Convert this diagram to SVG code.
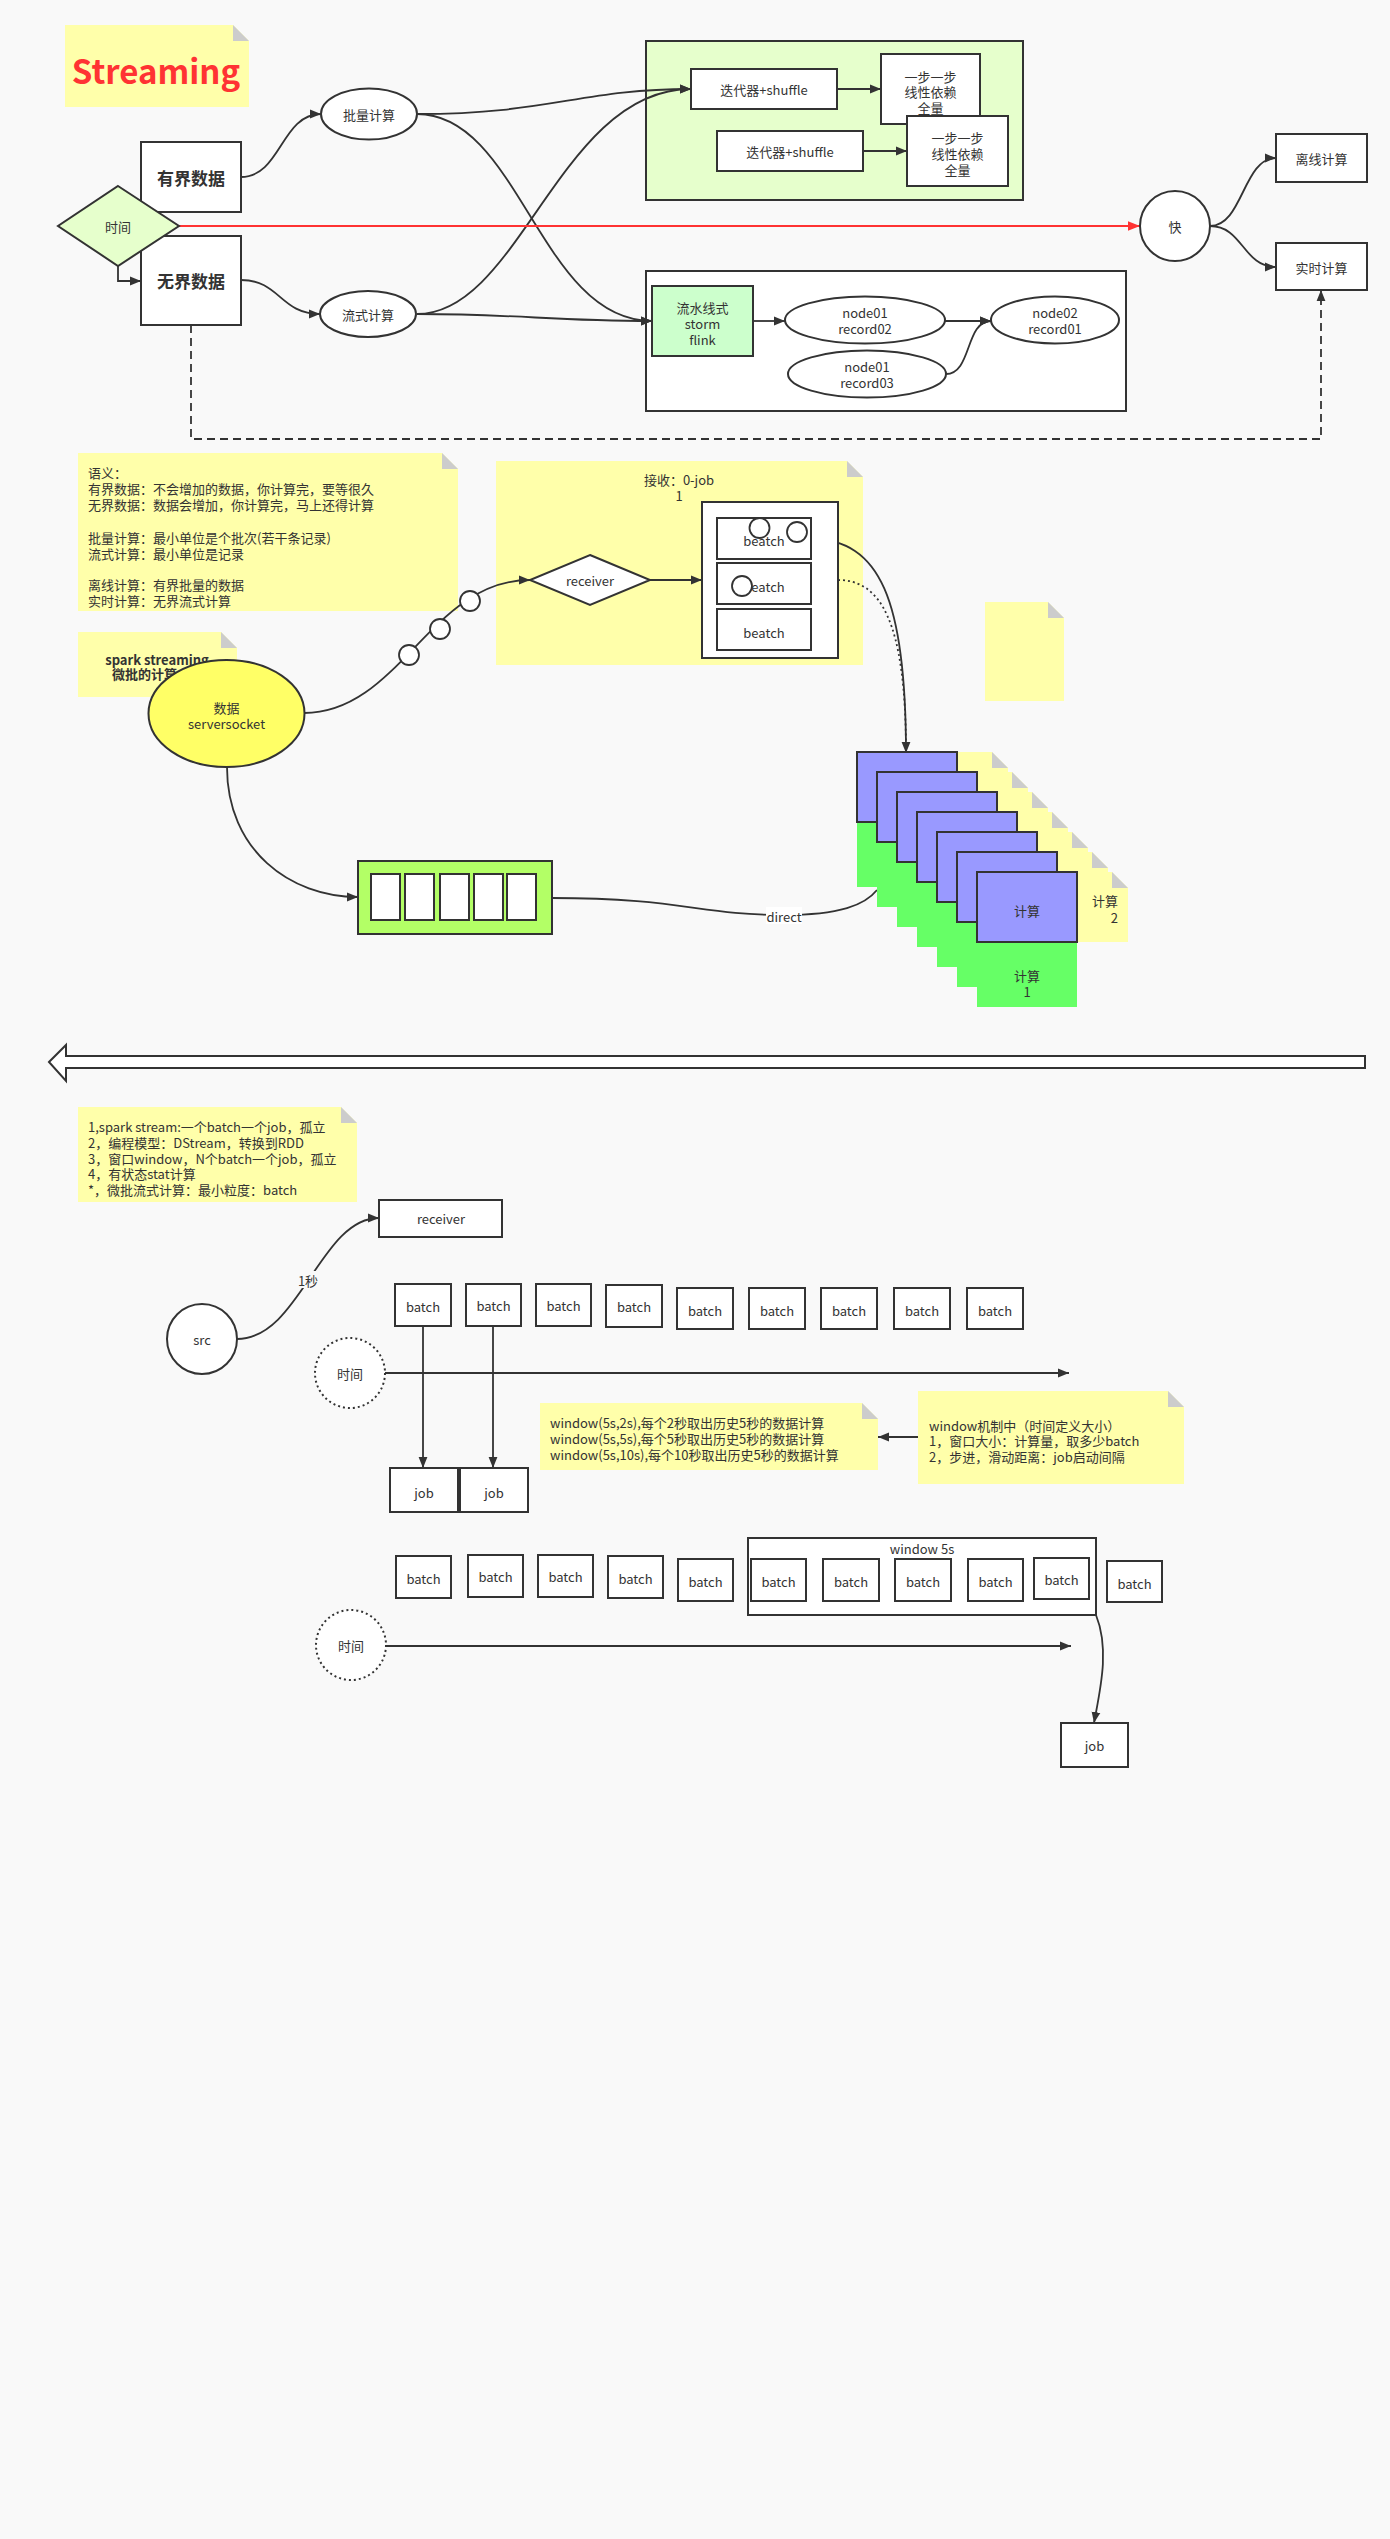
<svg xmlns="http://www.w3.org/2000/svg" width="1390" height="2539" viewBox="0 0 1390 2539">
<defs>
<style>
text{font-family:"Noto Sans CJK SC","Noto Sans",sans-serif;font-size:13px;fill:#333;}
.c{text-anchor:middle;dominant-baseline:central;}
.box{fill:#fff;stroke:#333;stroke-width:2;}
.note{fill:#ffffaa;}
.fold{fill:#cccccc;}
.edge{fill:none;stroke:#333;stroke-width:1.8;}
.purple{fill:#9999ff;stroke:#333;stroke-width:2;}
.green{fill:#66ff66;}
.circ{fill:#fff;stroke:#333;stroke-width:1.8;}
</style>
<marker id="arr" viewBox="0 0 10 10" refX="10" refY="5" markerWidth="11" markerHeight="11" markerUnits="userSpaceOnUse" orient="auto"><path d="M0,1 L10,5 L0,9 Z" fill="#333"/></marker>
<marker id="arrR" viewBox="0 0 10 10" refX="10" refY="5" markerWidth="12" markerHeight="12" markerUnits="userSpaceOnUse" orient="auto"><path d="M0,1 L10,5 L0,9 Z" fill="#ff3333"/></marker>
</defs>
<rect width="1390" height="2539" fill="#f9f9f9"/>

<g id="note-streaming">
<path class="note" d="M65 25 H233 L249 41 V107 H65 Z"/><path class="fold" d="M233 25 V41 H249 Z"/>
<text x="156" y="70" class="c" style="font-size:33px;font-weight:bold;fill:#ff3333">Streaming</text>
</g>

<g id="note-semantics">
<path class="note" d="M78 453 H442 L458 469 V611 H78 Z"/><path class="fold" d="M442 453 V469 H458 Z"/>
<text style="dominant-baseline:central"><tspan x="88" y="472">语义：</tspan><tspan x="88" y="488">有界数据：不会增加的数据，你计算完，要等很久</tspan><tspan x="88" y="504">无界数据：数据会增加，你计算完，马上还得计算</tspan><tspan x="88" y="537">批量计算：最小单位是个批次(若干条记录)</tspan><tspan x="88" y="553">流式计算：最小单位是记录</tspan><tspan x="88" y="584">离线计算：有界批量的数据</tspan><tspan x="88" y="600">实时计算：无界流式计算</tspan></text>
</g>
<g id="note-spark">
<path class="note" d="M78 632 H221 L237 648 V697 H78 Z"/><path class="fold" d="M221 632 V648 H237 Z"/>
<text x="157" y="659" class="c" style="font-weight:bold">spark  streaming</text>
<text x="112" y="673" style="font-weight:bold;dominant-baseline:central">微批的计算</text>
</g>
<g id="note-receive">
<path class="note" d="M496 461 H847 L863 477 V665 H496 Z"/><path class="fold" d="M847 461 V477 H863 Z"/>
<text class="c"><tspan x="679" y="479">接收：0-job</tspan><tspan x="679" y="495">1</tspan></text>
</g>
<g id="note-small"><path class="note" d="M985 602 H1048 L1064 618 V701 H985 Z"/><path class="fold" d="M1048 602 V618 H1064 Z"/></g>

<g id="note-summary">
<path class="note" d="M78 1107 H341 L357 1123 V1202 H78 Z"/><path class="fold" d="M341 1107 V1123 H357 Z"/>
<text style="dominant-baseline:central"><tspan x="88" y="1126">1,spark stream:一个batch一个job，孤立</tspan><tspan x="88" y="1142">2，编程模型：DStream，转换到RDD</tspan><tspan x="88" y="1158">3，窗口window，N个batch一个job，孤立</tspan><tspan x="88" y="1173">4，有状态stat计算</tspan><tspan x="88" y="1189">*，微批流式计算：最小粒度：batch</tspan></text>
</g>
<g id="note-window">
<path class="note" d="M540 1403 H862 L878 1419 V1470 H540 Z"/><path class="fold" d="M862 1403 V1419 H878 Z"/>
<text style="dominant-baseline:central"><tspan x="550" y="1422">window(5s,2s),每个2秒取出历史5秒的数据计算</tspan><tspan x="550" y="1438">window(5s,5s),每个5秒取出历史5秒的数据计算</tspan><tspan x="550" y="1454">window(5s,10s),每个10秒取出历史5秒的数据计算</tspan></text>
</g>
<g id="note-mechanism">
<path class="note" d="M918 1391 H1168 L1184 1407 V1484 H918 Z"/><path class="fold" d="M1168 1391 V1407 H1184 Z"/>
<text style="dominant-baseline:central"><tspan x="929" y="1425">window机制中（时间定义大小）</tspan><tspan x="929" y="1440">1，窗口大小：计算量，取多少batch</tspan><tspan x="929" y="1456">2，步进，滑动距离：job启动间隔</tspan></text>
</g>

<g id="container-batch">
<rect x="646" y="41" width="377" height="159" fill="#e6ffcc" stroke="#333" stroke-width="2"/>
</g>
<g id="container-stream">
<rect x="646" y="271" width="480" height="140" fill="#fff" stroke="#333" stroke-width="2"/>
</g>

<g id="connectors">
<path class="edge" d="M241,177 C281,177 281,114 321,114" marker-end="url(#arr)"/>
<path class="edge" d="M241,280 C280,280 280,314 320,314" marker-end="url(#arr)"/>
<path class="edge" d="M118,266 V281 H141" marker-end="url(#arr)"/>
<path class="edge" d="M417,114 C550,114 580,89 691,89" marker-end="url(#arr)"/>
<path class="edge" d="M417,114 C520,114 540,321 652,321" marker-end="url(#arr)"/>
<path class="edge" d="M417,314 C520,314 560,89 691,89" marker-end="url(#arr)"/>
<path class="edge" d="M417,314 C520,314 550,321 652,321" marker-end="url(#arr)"/>
<path class="edge" d="M837,89 H881" marker-end="url(#arr)"/>
<path class="edge" d="M863,151 H907" marker-end="url(#arr)"/>
<path d="M179,226 H1140" fill="none" stroke="#ff3333" stroke-width="2" marker-end="url(#arrR)"/>
<path class="edge" d="M1210,226 C1243,226 1243,158 1276,158" marker-end="url(#arr)"/>
<path class="edge" d="M1210,226 C1243,226 1243,267 1276,267" marker-end="url(#arr)"/>
<path class="edge" d="M753,321 H785" marker-end="url(#arr)"/>
<path class="edge" d="M944,321 H991" marker-end="url(#arr)"/>
<path class="edge" d="M946,374 C972,374 965,321 991,321" marker-end="url(#arr)"/>
<path class="edge" d="M191,325 V439 H1321 V290" stroke-dasharray="8 5" marker-end="url(#arr)"/>
<path class="edge" d="M304,713 C400,713 430,580 530,580" marker-end="url(#arr)"/>
<path class="edge" d="M650,580 H702" marker-end="url(#arr)"/>
<path class="edge" d="M811,539 C880,539 906,600 906,753" marker-end="url(#arr)"/>
<path class="edge" d="M838,580 C880,580 906,620 906,753" stroke-dasharray="2 3"/>
<path class="edge" d="M227,767 C227,850 290,897 358,897" marker-end="url(#arr)"/>
<path class="edge" d="M552,898 C680,898 700,915 784,915 C840,915 865,905 877,890"/>
<path class="edge" d="M237,1339 C300,1339 320,1218 379,1218" marker-end="url(#arr)"/>
<path class="edge" d="M385,1373 H1069" marker-end="url(#arr)"/>
<path class="edge" d="M423,1326 V1468" marker-end="url(#arr)"/>
<path class="edge" d="M493,1326 V1468" marker-end="url(#arr)"/>
<path class="edge" d="M918,1437 H878" marker-end="url(#arr)"/>
<path class="edge" d="M386,1646 H1071" marker-end="url(#arr)"/>
<path class="edge" d="M1096,1615 C1110,1650 1100,1690 1094,1723" marker-end="url(#arr)"/>
</g>

<g id="node-youjie"><rect class="box" x="141" y="142" width="100" height="70"/><text x="191" y="177" class="c" style="font-size:17px;font-weight:bold">有界数据</text></g>
<g id="node-wujie"><rect class="box" x="141" y="236" width="100" height="89"/><text x="191" y="280" class="c" style="font-size:17px;font-weight:bold">无界数据</text></g>
<g id="node-time"><polygon points="118,186 179,226 118,266 58,226" fill="#e6ffcc" stroke="#333" stroke-width="2"/><text x="118" y="226" class="c">时间</text></g>
<g id="node-batch"><ellipse cx="369" cy="114" rx="48" ry="25.5" class="box"/><text x="369" y="114" class="c">批量计算</text></g>
<g id="node-stream"><ellipse cx="368" cy="314" rx="48" ry="23" class="box"/><text x="368" y="314" class="c">流式计算</text></g>
<g id="node-iter1"><rect class="box" x="691" y="69" width="146" height="40"/><text x="764" y="89" class="c">迭代器+shuffle</text></g>
<g id="node-step1"><rect class="box" x="881" y="54" width="99" height="70"/><text class="c" x="930.5"><tspan x="930.5" y="76">一步一步</tspan><tspan x="930.5" y="91">线性依赖</tspan><tspan x="930.5" y="107">全量</tspan></text></g>
<g id="node-iter2"><rect class="box" x="717" y="131" width="146" height="40"/><text x="790" y="151" class="c">迭代器+shuffle</text></g>
<g id="node-step2"><rect class="box" x="907" y="116" width="101" height="70"/><text class="c" x="957.5"><tspan x="957.5" y="137">一步一步</tspan><tspan x="957.5" y="153">线性依赖</tspan><tspan x="957.5" y="169">全量</tspan></text></g>
<g id="node-fast"><ellipse cx="1175" cy="226" rx="35" ry="35" class="box"/><text x="1175" y="226" class="c">快</text></g>
<g id="node-offline"><rect class="box" x="1276" y="134" width="91" height="48"/><text x="1321.5" y="158" class="c">离线计算</text></g>
<g id="node-realtime"><rect class="box" x="1276" y="243" width="91" height="47"/><text x="1321.5" y="267" class="c">实时计算</text></g>
<g id="node-pipeline"><rect x="652" y="286" width="101" height="70" fill="#ccffcc" stroke="#333" stroke-width="2"/><text class="c"><tspan x="702.5" y="307">流水线式</tspan><tspan x="702.5" y="323">storm</tspan><tspan x="702.5" y="339">flink</tspan></text></g>
<g id="node-n1r2"><ellipse cx="865" cy="320" rx="80" ry="23.5" class="box"/><text class="c"><tspan x="865" y="312">node01</tspan><tspan x="865" y="328">record02</tspan></text></g>
<g id="node-n2r1"><ellipse cx="1055" cy="320" rx="64" ry="23.5" class="box"/><text class="c"><tspan x="1055" y="312">node02</tspan><tspan x="1055" y="328">record01</tspan></text></g>
<g id="node-n1r3"><ellipse cx="867" cy="374" rx="79" ry="23.5" class="box"/><text class="c"><tspan x="867" y="366">node01</tspan><tspan x="867" y="382">record03</tspan></text></g>

<g id="node-serversocket"><ellipse cx="226.5" cy="713.5" rx="78" ry="53.5" fill="#ffff66" stroke="#333" stroke-width="2"/><text class="c"><tspan x="226.5" y="707">数据</tspan><tspan x="226.5" y="723">serversocket</tspan></text></g>
<g id="dots"><circle class="circ" cx="409" cy="655" r="10"/><circle class="circ" cx="440" cy="629" r="10"/><circle class="circ" cx="470" cy="601" r="10"/></g>
<g id="node-receiver"><polygon points="590,555 650,580 590,605 530,580" fill="#fff" stroke="#333" stroke-width="2"/><text x="590" y="580" class="c">receiver</text></g>
<g id="node-batches">
<rect class="box" x="702" y="502" width="136" height="156"/>
<rect class="box" x="717" y="518" width="94" height="41"/><text x="764" y="540" class="c">beatch</text>
<rect class="box" x="717" y="563" width="94" height="41"/><text x="764" y="586" class="c">beatch</text>
<rect class="box" x="717" y="609" width="94" height="41"/><text x="764" y="632" class="c">beatch</text>
<circle class="circ" cx="759.5" cy="528" r="10"/><circle class="circ" cx="797" cy="532" r="10"/><circle class="circ" cx="742" cy="586" r="10"/>
</g>

<g id="node-queue">
<rect x="358" y="861" width="194" height="73" fill="#b3ff66" stroke="#333" stroke-width="2"/>
<rect class="box" x="371" y="874" width="29" height="46"/><rect class="box" x="405" y="874" width="29" height="46"/><rect class="box" x="440" y="874" width="29" height="46"/><rect class="box" x="474" y="874" width="29" height="46"/><rect class="box" x="507" y="874" width="29" height="46"/>
</g>
<g id="label-direct"><rect x="766" y="907" width="36" height="17" fill="#fff"/><text x="784" y="916" class="c">direct</text></g>

<g id="node-stack">
<path class="note" d="M908 752 H992 L1008 768 V822 H908 Z"/><path class="fold" d="M992 752 V768 H1008 Z"/>
<path class="note" d="M928 772 H1012 L1028 788 V842 H928 Z"/><path class="fold" d="M1012 772 V788 H1028 Z"/>
<path class="note" d="M948 792 H1032 L1048 808 V862 H948 Z"/><path class="fold" d="M1032 792 V808 H1048 Z"/>
<path class="note" d="M968 812 H1052 L1068 828 V882 H968 Z"/><path class="fold" d="M1052 812 V828 H1068 Z"/>
<path class="note" d="M988 832 H1072 L1088 848 V902 H988 Z"/><path class="fold" d="M1072 832 V848 H1088 Z"/>
<path class="note" d="M1008 852 H1092 L1108 868 V922 H1008 Z"/><path class="fold" d="M1092 852 V868 H1108 Z"/>
<path class="note" d="M1028 872 H1112 L1128 888 V942 H1028 Z"/><path class="fold" d="M1112 872 V888 H1128 Z"/>
<text style="text-anchor:end;dominant-baseline:central"><tspan x="1118" y="900">计算</tspan><tspan x="1118" y="917">2</tspan></text>
<rect class="green" x="857" y="817" width="100" height="70"/>
<rect class="green" x="877" y="837" width="100" height="70"/>
<rect class="green" x="897" y="857" width="100" height="70"/>
<rect class="green" x="917" y="877" width="100" height="70"/>
<rect class="green" x="937" y="897" width="100" height="70"/>
<rect class="green" x="957" y="917" width="100" height="70"/>
<rect class="green" x="977" y="937" width="100" height="70"/>
<text class="c"><tspan x="1027" y="975">计算</tspan><tspan x="1027" y="991">1</tspan></text>
<rect class="purple" x="857" y="752" width="100" height="70"/>
<rect class="purple" x="877" y="772" width="100" height="70"/>
<rect class="purple" x="897" y="792" width="100" height="70"/>
<rect class="purple" x="917" y="812" width="100" height="70"/>
<rect class="purple" x="937" y="832" width="100" height="70"/>
<rect class="purple" x="957" y="852" width="100" height="70"/>
<rect class="purple" x="977" y="872" width="100" height="70"/>
<text x="1027" y="910" class="c">计算</text>
</g>

<g id="divider-arrow"><polygon points="49,1062 66,1045 66,1056 1365,1056 1365,1068 66,1068 66,1081" fill="#fff" stroke="#333" stroke-width="2"/></g>

<g id="node-receiver2"><rect class="box" x="379" y="1200" width="123" height="37"/><text x="441" y="1218" class="c">receiver</text></g>
<g id="node-src"><ellipse cx="202" cy="1339" rx="35" ry="35" class="box"/><text x="202" y="1339" class="c">src</text></g>
<g id="label-1s"><rect x="296" y="1271" width="24" height="17" fill="#f9f9f9"/><text x="308" y="1280" class="c">1秒</text></g>

<g id="row1-batches">
<rect class="box" x="395" y="1284" width="56" height="42"/><text x="423" y="1306" class="c">batch</text>
<rect class="box" x="466" y="1284" width="55" height="42"/><text x="493.5" y="1305" class="c">batch</text>
<rect class="box" x="536" y="1284" width="55" height="42"/><text x="563.5" y="1305" class="c">batch</text>
<rect class="box" x="606" y="1285" width="56" height="42"/><text x="634" y="1306" class="c">batch</text>
<rect class="box" x="677" y="1288" width="56" height="41"/><text x="705" y="1310" class="c">batch</text>
<rect class="box" x="749" y="1288" width="56" height="41"/><text x="777" y="1310" class="c">batch</text>
<rect class="box" x="821" y="1288" width="56" height="41"/><text x="849" y="1310" class="c">batch</text>
<rect class="box" x="894" y="1288" width="56" height="41"/><text x="922" y="1310" class="c">batch</text>
<rect class="box" x="967" y="1288" width="56" height="41"/><text x="995" y="1310" class="c">batch</text>
</g>
<g id="node-time1"><circle cx="350" cy="1373" r="35" fill="#fff" stroke="#333" stroke-width="2" stroke-dasharray="2 3"/><text x="350" y="1373" class="c">时间</text></g>
<g id="node-job1"><rect class="box" x="390" y="1468" width="68" height="44"/><text x="424" y="1492" class="c">job</text></g>
<g id="node-job2"><rect class="box" x="460" y="1468" width="68" height="44"/><text x="494" y="1492" class="c">job</text></g>

<g id="row2-batches">
<rect class="box" x="396" y="1556" width="55" height="42"/><text x="423.5" y="1578" class="c">batch</text>
<rect class="box" x="468" y="1555" width="55" height="42"/><text x="495.5" y="1576" class="c">batch</text>
<rect class="box" x="538" y="1555" width="55" height="42"/><text x="565.5" y="1576" class="c">batch</text>
<rect class="box" x="608" y="1556" width="55" height="42"/><text x="635.5" y="1578" class="c">batch</text>
<rect class="box" x="678" y="1559" width="55" height="42"/><text x="705.5" y="1581" class="c">batch</text>
</g>
<g id="node-window5s">
<rect class="box" x="748" y="1538" width="348" height="77"/>
<text x="922" y="1548" class="c">window 5s</text>
<rect class="box" x="751" y="1559" width="55" height="42"/><text x="778.5" y="1581" class="c">batch</text>
<rect class="box" x="823" y="1559" width="56" height="42"/><text x="851" y="1581" class="c">batch</text>
<rect class="box" x="895" y="1559" width="56" height="42"/><text x="923" y="1581" class="c">batch</text>
<rect class="box" x="968" y="1559" width="55" height="42"/><text x="995.5" y="1581" class="c">batch</text>
<rect class="box" x="1034" y="1558" width="55" height="41"/><text x="1061.5" y="1579" class="c">batch</text>
</g>
<g id="node-batch-last"><rect class="box" x="1107" y="1561" width="55" height="41"/><text x="1134.5" y="1583" class="c">batch</text></g>
<g id="node-time2"><circle cx="351" cy="1645" r="35" fill="#fff" stroke="#333" stroke-width="2" stroke-dasharray="2 3"/><text x="351" y="1645" class="c">时间</text></g>
<g id="node-job3"><rect class="box" x="1061" y="1723" width="67" height="44"/><text x="1094.5" y="1745" class="c">job</text></g>
</svg>
